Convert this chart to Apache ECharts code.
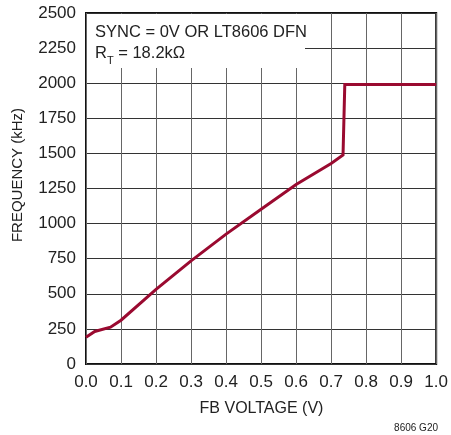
<!DOCTYPE html>
<html>
<head>
<meta charset="utf-8">
<script src="https://cdn.jsdelivr.net/npm/echarts@6/dist/echarts.min.js"></script>
<style>
html,body{margin:0;padding:0;background:#fff;}
#c{width:451px;height:435px;}
</style>
</head>
<body>
<div id="c"></div>
<script>
// Data
var fbVoltage = [0, 0.025, 0.07, 0.1, 0.2, 0.3, 0.4, 0.5, 0.6, 0.7, 0.734, 0.739, 1.0];
var frequency = [190, 232, 262, 312, 532, 735, 925, 1102, 1278, 1428, 1488, 1990, 1990];
var xTicks = ['0.0','0.1','0.2','0.3','0.4','0.5','0.6','0.7','0.8','0.9','1.0'];
var yTicks = [0, 250, 500, 750, 1000, 1250, 1500, 1750, 2000, 2250, 2500];
var noteLine1 = 'SYNC = 0V OR LT8606 DFN';
var noteLine2R = 'R';
var noteLine2Sub = 'T';
var noteLine2Rest = ' = 18.2kΩ';
var xName = 'FB VOLTAGE (V)';
var yName = 'FREQUENCY (kHz)';
var footnote = '8606 G20';

var REG = "'Liberation Sans', Arial, sans-serif";

var chart = echarts.init(document.getElementById('c'), null, {renderer: 'canvas'});
var points = fbVoltage.map(function (v, i) { return [v, frequency[i]]; });

chart.setOption({
  animation: false,
  backgroundColor: '#ffffff',
  grid: {left: 86, top: 13, right: 13.5, bottom: 71, show: true, borderColor: '#111', borderWidth: 2, backgroundColor: 'transparent'},
  xAxis: {
    type: 'value', min: 0, max: 1, interval: 0.1,
    axisLine: {show: false},
    axisTick: {show: false},
    axisLabel: {color: '#222', fontFamily: REG, fontSize: 17, margin: 10,
      formatter: function (v) { return xTicks[Math.round(v * 10)]; }},
    splitLine: {show: true, lineStyle: {color: '#666', width: 1}}
  },
  yAxis: {
    type: 'value', min: 0, max: 2500, interval: 250,
    axisLine: {show: false},
    axisTick: {show: false},
    axisLabel: {color: '#222', fontFamily: REG, fontSize: 17, margin: 10,
      formatter: function (v) { return String(yTicks[Math.round(v / 250)]); }},
    splitLine: {show: true, lineStyle: {color: '#333', width: 1}}
  },
  graphic: [
    {type: 'rect', z: 10, shape: {x: 87, y: 14, width: 218, height: 54}, style: {fill: '#fff'}},
    {type: 'text', z: 11, left: 95, top: 24, style: {text: noteLine1, fill: '#222', font: '16.5px ' + REG}},
    {type: 'text', z: 11, left: 95, top: 45, style: {
      text: '{r|' + noteLine2R + '}{s|' + noteLine2Sub + '}{r|' + noteLine2Rest + '}',
      fill: '#222',
      rich: {
        r: {fontSize: 16.5, fontFamily: REG, fill: '#222', verticalAlign: 'bottom', lineHeight: 18},
        s: {fontSize: 11, fontFamily: REG, fill: '#222', verticalAlign: 'bottom', lineHeight: 12, padding: [0,0,-4,0]}
      }}},
    {type: 'text', z: 11, x: 261.5, y: 409, style: {text: xName, fill: '#222', font: '16px ' + REG, align: 'center', verticalAlign: 'middle'}},
    {type: 'text', z: 11, x: 17.5, y: 175, rotation: Math.PI / 2, style: {text: yName, fill: '#222', font: '15px ' + REG, align: 'center', verticalAlign: 'middle'}},
    {type: 'text', z: 11, x: 438, y: 428, style: {text: footnote, fill: '#222', font: '10px ' + REG, align: 'right', verticalAlign: 'middle'}}
  ],
  series: [{
    type: 'line', data: points, showSymbol: false, symbol: 'none', z: 20,
    lineStyle: {color: '#9a0a30', width: 3, join: 'miter'}
  }]
});
</script>
</body>
</html>
